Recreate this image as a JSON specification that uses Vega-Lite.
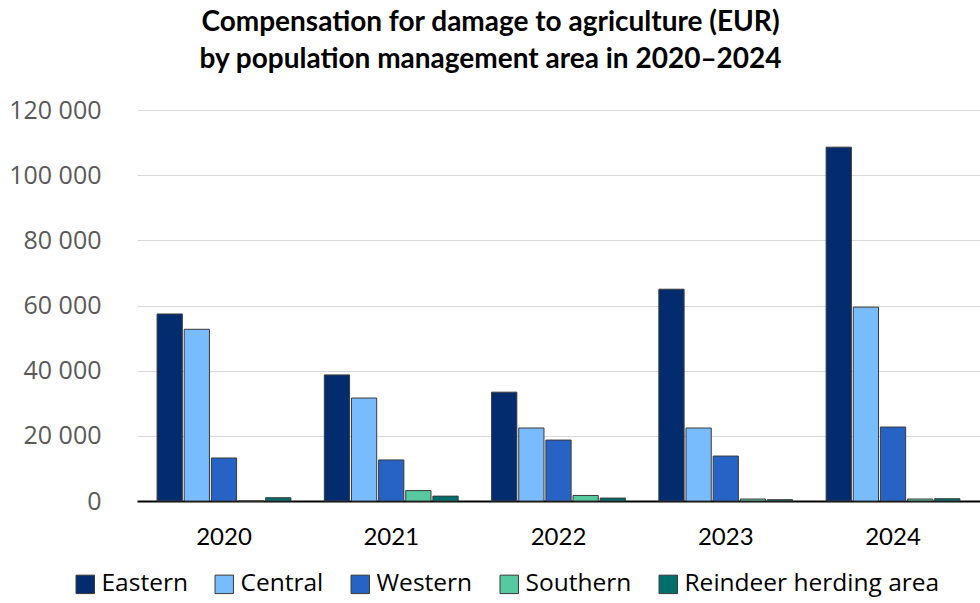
{
  "$schema": "https://vega.github.io/schema/vega-lite/v6.json",
  "width": 843,
  "height": 391,
  "autosize": {"type": "none"},
  "padding": {"left": 137, "top": 110, "right": 0, "bottom": 102},
  "background": "white",
  "title": {
    "text": ["Compensation for damage to agriculture (EUR)", "by population management area in 2020–2024"],
    "font": "Lato",
    "fontSize": 28,
    "fontWeight": "bold",
    "color": "#000000",
    "anchor": "middle",
    "dx": -68,
    "offset": 24,
    "lineHeight": 37
  },
  "config": {
    "view": {"stroke": null}
  },
  "data": {
    "values": [
      {"year": "2020", "area": "Eastern", "value": 57400},
      {"year": "2020", "area": "Central", "value": 52700},
      {"year": "2020", "area": "Western", "value": 13200},
      {"year": "2020", "area": "Southern", "value": 0},
      {"year": "2020", "area": "Reindeer herding area", "value": 1000},
      {"year": "2021", "area": "Eastern", "value": 38700},
      {"year": "2021", "area": "Central", "value": 31600},
      {"year": "2021", "area": "Western", "value": 12600},
      {"year": "2021", "area": "Southern", "value": 3200},
      {"year": "2021", "area": "Reindeer herding area", "value": 1500},
      {"year": "2022", "area": "Eastern", "value": 33400},
      {"year": "2022", "area": "Central", "value": 22400},
      {"year": "2022", "area": "Western", "value": 18700},
      {"year": "2022", "area": "Southern", "value": 1700},
      {"year": "2022", "area": "Reindeer herding area", "value": 900},
      {"year": "2023", "area": "Eastern", "value": 65000},
      {"year": "2023", "area": "Central", "value": 22400},
      {"year": "2023", "area": "Western", "value": 13800},
      {"year": "2023", "area": "Southern", "value": 600},
      {"year": "2023", "area": "Reindeer herding area", "value": 400},
      {"year": "2024", "area": "Eastern", "value": 108600},
      {"year": "2024", "area": "Central", "value": 59500},
      {"year": "2024", "area": "Western", "value": 22700},
      {"year": "2024", "area": "Southern", "value": 600},
      {"year": "2024", "area": "Reindeer herding area", "value": 700}
    ]
  },
  "mark": {"type": "bar", "stroke": "#3a3a3a", "strokeWidth": 1},
  "encoding": {
    "x": {
      "field": "year",
      "type": "nominal",
      "title": null,
      "scale": {"paddingInner": 0.2, "paddingOuter": 0.12},
      "axis": {
        "labelAngle": 0,
        "labelFont": "Lato",
        "labelFontSize": 24,
        "labelColor": "#000000",
        "labelPadding": 24,
        "ticks": false,
        "domainColor": "#000000",
        "domainWidth": 2
      }
    },
    "xOffset": {
      "field": "area",
      "type": "nominal",
      "sort": ["Eastern", "Central", "Western", "Southern", "Reindeer herding area"],
      "scale": {"paddingInner": 0.07, "paddingOuter": 0}
    },
    "y": {
      "field": "value",
      "type": "quantitative",
      "title": null,
      "scale": {"domain": [0, 120000]},
      "axis": {
        "values": [0, 20000, 40000, 60000, 80000, 100000, 120000],
        "labelExpr": "replace(format(datum.value, ','), ',', ' ')",
        "labelFont": "Open Sans",
        "labelFontSize": 25,
        "labelColor": "#595959",
        "labelPadding": 36,
        "ticks": false,
        "domain": false,
        "gridColor": "#d9d9d9",
        "gridWidth": 1
      }
    },
    "color": {
      "field": "area",
      "type": "nominal",
      "sort": ["Eastern", "Central", "Western", "Southern", "Reindeer herding area"],
      "scale": {
        "domain": ["Eastern", "Central", "Western", "Southern", "Reindeer herding area"],
        "range": ["#032c6e", "#79bcfd", "#2762c5", "#56c9a0", "#006e6a"]
      },
      "legend": {
        "title": null,
        "orient": "none",
        "direction": "horizontal",
        "legendX": -64,
        "legendY": 462,
        "symbolType": "square",
        "symbolSize": 340,
        "symbolStrokeColor": "#3a3a3a",
        "symbolStrokeWidth": 1,
        "labelFont": "Open Sans",
        "labelFontSize": 24.5,
        "labelColor": "#000000",
        "labelOffset": 4,
        "columnPadding": 24,
        "labelLimit": 400
      }
    }
  }
}
